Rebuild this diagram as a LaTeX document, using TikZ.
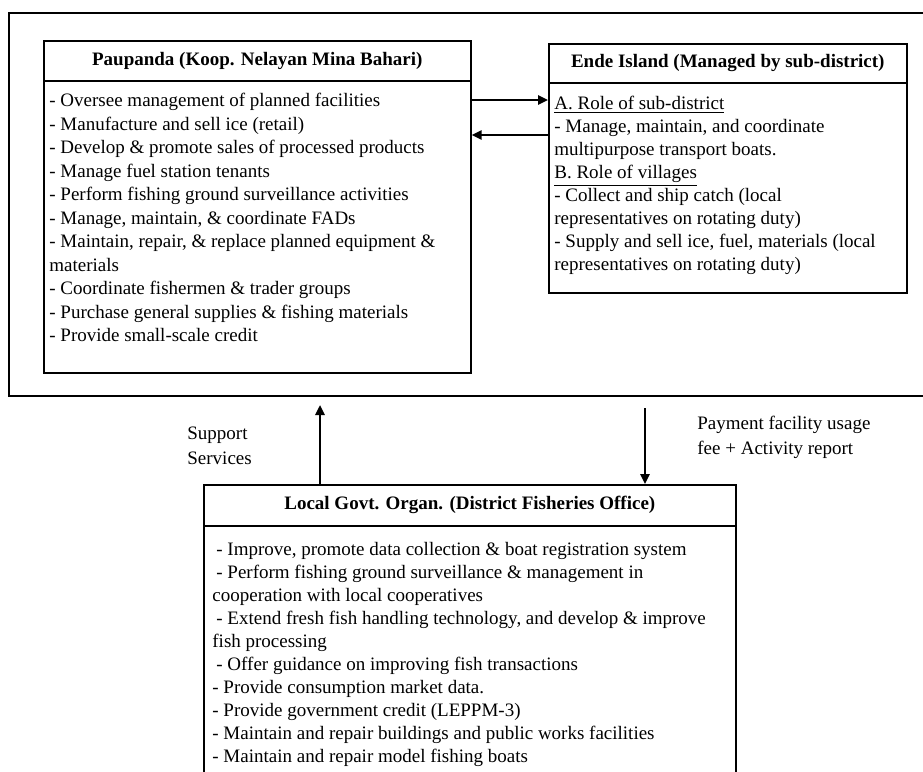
\documentclass[tikz,border=0pt]{standalone}
\usepackage{fontspec}
\setmainfont{Liberation Serif}
\usetikzlibrary{arrows.meta}

\begin{document}
\begin{tikzpicture}[x=0.5pt, y=-0.5pt, font=\fontsize{9.5}{11.75}\selectfont]
    \tikzset{box/.style={draw, line width=0.8pt, anchor=north west, inner sep=0pt},
             head/.style={font=\fontsize{9.5}{11.75}\selectfont\bfseries, inner sep=0pt},
             body/.style={anchor=north west, align=left, inner sep=0pt},
             flow/.style={line width=1.2pt, -{Triangle[length=5pt,width=4.5pt]}}}
    \useasboundingbox (0,0) rectangle (923,772);
    \clip (0,0) rectangle (923,772);
    \node[box, minimum width=470pt, minimum height=191.5pt] (outer) at (8,12) {};
    % cooperative box
    \node[box, minimum width=213.5pt, minimum height=166pt] (pau) at (43,40) {};
    \draw[line width=0.8pt] (pau.west |- 0,81) -- (pau.east |- 0,81);
    \node[head] (pauhead) at (pau.north |- 0,61) {Paupanda (Koop. Nelayan Mina Bahari)};
    \node[body] (paubody) at (49,93)
      {- Oversee management of planned facilities\\
       - Manufacture and sell ice (retail)\\
       - Develop \& promote sales of processed products\\
       - Manage fuel station tenants\\
       - Perform fishing ground surveillance activities\\
       - Manage, maintain, \& coordinate FADs\\
       - Maintain, repair, \& replace planned equipment \&\\
       materials\\
       - Coordinate fishermen \& trader groups\\
       - Purchase general supplies \& fishing materials\\
       - Provide small-scale credit};
    % island box
    \node[box, minimum width=179pt, minimum height=124.5pt] (ende) at (548,43) {};
    \draw[line width=0.8pt] (ende.west |- 0,83) -- (ende.east |- 0,83);
    \node[head] (endehead) at (ende.north |- 0,63) {Ende Island (Managed by sub-district)};
    \node[body, font=\fontsize{9.5}{11.5}\selectfont] (endebody) at (554,96)
      {\underline{A. Role of sub-district}\\
       - Manage, maintain, and coordinate\\
       multipurpose transport boats.\\
       \underline{B. Role of villages}\\
       - Collect and ship catch (local\\
       representatives on rotating duty)\\
       - Supply and sell ice, fuel, materials (local\\
       representatives on rotating duty)};
    \draw[flow] (pau.east |- 0,100) -- (ende.west |- 0,100);
    \draw[flow] (ende.west |- 0,135) -- (pau.east |- 0,135);
    % district office box
    \node[box, minimum width=266pt, minimum height=160pt] (govt) at (203,484) {};
    \draw[line width=0.8pt] (govt.west |- 0,526) -- (govt.east |- 0,526);
    \node[head] (govthead) at (govt.north |- 0,505) {Local Govt. Organ. (District Fisheries Office)};
    \node[body, font=\fontsize{9.5}{11.5}\selectfont] (govtbody) at (212,542)
      {\hspace{2pt}- Improve, promote data collection \& boat registration system\\
       \hspace{2pt}- Perform fishing ground surveillance \& management in\\
       cooperation with local cooperatives\\
       \hspace{2pt}- Extend fresh fish handling technology, and develop \& improve\\
       fish processing\\
       \hspace{2pt}- Offer guidance on improving fish transactions\\
       - Provide consumption market data.\\
       - Provide government credit (LEPPM-3)\\
       - Maintain and repair buildings and public works facilities\\
       - Maintain and repair model fishing boats};
    \coordinate (uptip) at (320,405);
    \coordinate (downtop) at (645,408);
    \draw[flow] (govt.north -| uptip) -- (uptip);
    \draw[flow] (downtop) -- (govt.north -| downtop);
    \node[body, anchor=west, font=\fontsize{9.5}{12.5}\selectfont] (support) at (187,446) {Support\\Services};
    \node[body, anchor=west, font=\fontsize{9.5}{12.5}\selectfont] (payment) at (697,437)
      {Payment facility usage\\fee + Activity report};
\end{tikzpicture}
\end{document}
